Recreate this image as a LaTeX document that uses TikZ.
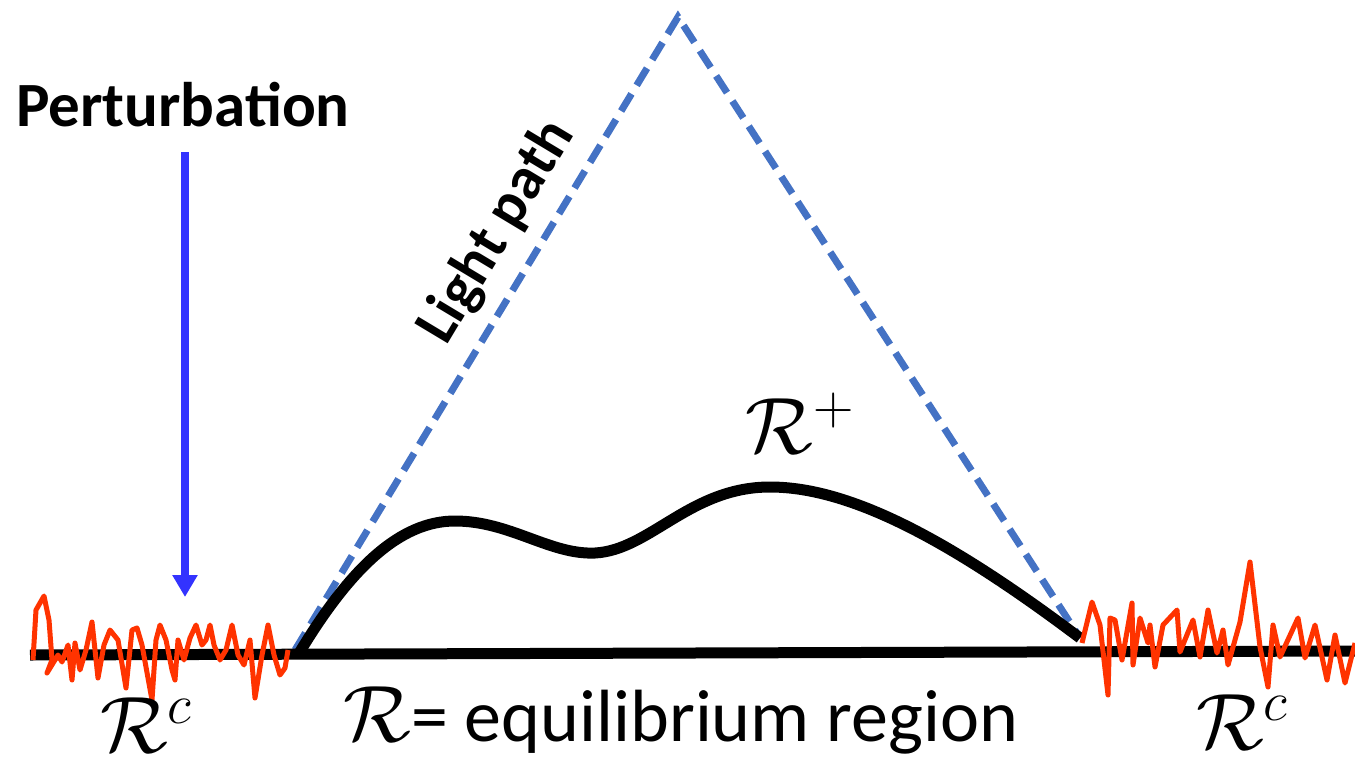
\documentclass[tikz,border=0pt]{standalone}
\usepackage{fix-cm}
\usepackage{fontspec}
\setmainfont{Carlito}
\usetikzlibrary{arrows.meta}
\definecolor{pathblue}{HTML}{4472C4}
\definecolor{pertblue}{HTML}{3333FF}
\definecolor{noisered}{HTML}{FF3300}
\tikzset{
  lightpath/.style={draw=pathblue, line width=7pt, dash pattern=on 20pt off 10pt},
  groundline/.style={draw=black, line width=11pt},
  regioncurve/.style={draw=black, line width=11pt},
  noiseline/.style={draw=noisered, line width=5pt, line join=round},
  pertarrow/.style={draw=pertblue, line width=8pt, -{Triangle[width=24pt,length=22pt]}},
  boldlabel/.style={font=\bfseries\fontsize{63}{70}\selectfont, inner sep=0pt},
  mathlabel/.style={font=\fontsize{80}{90}\selectfont, inner sep=0pt},
}
\begin{document}
\begin{tikzpicture}[x=1pt,y=-1pt]
\useasboundingbox (0,0) rectangle (1355,758);
% key points
\coordinate (L) at (295,650);
\coordinate (A) at (678,17);
\coordinate (Rt) at (1080,638);
\coordinate (G1) at (30,655);
\coordinate (G2) at (1355,651);
\coordinate (ptop) at (185,152);
\coordinate (ptip) at (185,597);
% light path
\draw[lightpath] (L) -- (A) -- (Rt);
% ground
\draw[groundline] (G1) -- (G2);
% region curve
\draw[regioncurve] (298,655) .. controls (350,568) and (400,521) .. (455,521)
  .. controls (510,521) and (550,555) .. (595,553)
  .. controls (650,550) and (690,487) .. (770,487)
  .. controls (850,487) and (950,540) .. (Rt);
% noise left
\draw[noiseline] (33,660) -- (36,610) -- (44,596) -- (49,620) -- (52,660) -- (47,673) -- (58,655) -- (62,662) -- (68,645) -- (72,680) -- (75,643) -- (80,670) -- (86,650) -- (92,622) -- (98,678) -- (104,645) -- (110,630) -- (118,640) -- (126,688) -- (132,630) -- (137,628) -- (142,645) -- (152,700) -- (156,640) -- (160,625) -- (166,640) -- (172,670) -- (175,680) -- (178,640) -- (184,660) -- (190,638) -- (196,625) -- (202,645) -- (206,640) -- (210,625) -- (214,645) -- (220,660) -- (226,650) -- (232,625) -- (238,655) -- (244,665) -- (250,640) -- (255,698) -- (262,655) -- (268,625) -- (274,655) -- (280,675) -- (285,668) -- (288,650);
% noise right
\draw[noiseline] (1082,643) -- (1092,602) -- (1100,625) -- (1108,695) -- (1110,618) -- (1115,620) -- (1122,660) -- (1132,603) -- (1133,665) -- (1140,618) -- (1148,643) -- (1150,625) -- (1155,667) -- (1163,625) -- (1177,610) -- (1180,652) -- (1193,620) -- (1200,657) -- (1208,610) -- (1217,653) -- (1223,630) -- (1228,665) -- (1240,622) -- (1250,562) -- (1260,647) -- (1268,687) -- (1273,625) -- (1280,657) -- (1298,618) -- (1305,658) -- (1315,625) -- (1327,680) -- (1335,635) -- (1345,683) -- (1355,643);
% perturbation
\node[boldlabel] (pert) at (183,105) {Perturbation};
\draw[pertarrow] (ptop) -- (ptip);
% light path label
\node[boldlabel, font=\bfseries\fontsize{60}{66}\selectfont, rotate=59] (lp) at (497,232) {Light path};
% labels
\node[mathlabel] (rplus) at (800,423) {$\mathcal{R}^{+}$};
\node[mathlabel] (rcl) at (146,725) {$\mathcal{R}^{c}$};
\node[mathlabel] (rcr) at (1242,722) {$\mathcal{R}^{c}$};
\node[mathlabel, anchor=base west] (eqR) at (343,741) {$\mathcal{R}$};
\node[mathlabel, font=\fontsize{74}{80}\selectfont, anchor=base west] (eq) at (eqR.base east) {= equilibrium region};
\end{tikzpicture}
\end{document}
